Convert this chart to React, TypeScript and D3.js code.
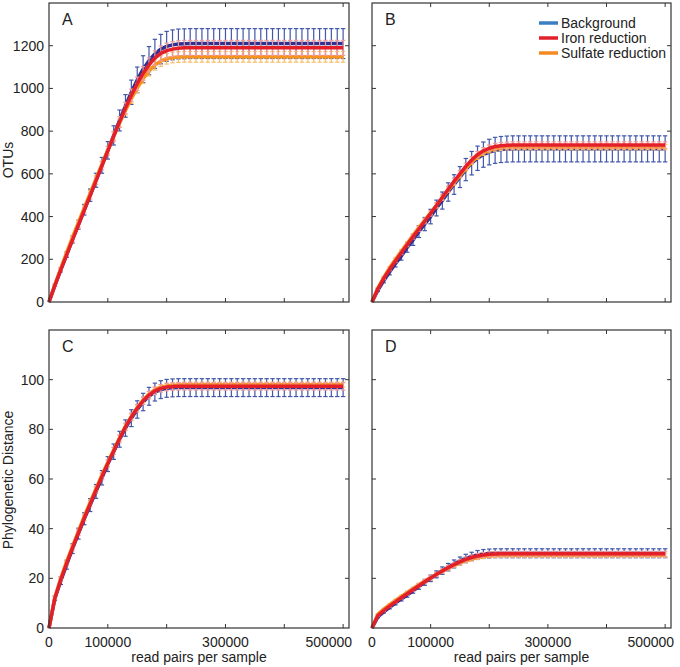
import React from "react";
import * as d3 from "d3";

const xs = [0, 10000, 20000, 30000, 40000, 50000, 60000, 70000, 80000, 90000, 100000, 110000, 120000, 130000, 140000, 150000, 160000, 170000, 180000, 190000, 200000, 210000, 220000, 230000, 240000, 250000, 260000, 270000, 280000, 290000, 300000, 310000, 320000, 330000, 340000, 350000, 360000, 370000, 380000, 390000, 400000, 410000, 420000, 430000, 440000, 450000, 460000, 470000, 480000, 490000, 500000];

const seriesNames = ["Background", "Iron reduction", "Sulfate reduction"];
const xTickValues = [100000, 200000, 300000, 400000, 500000];
const xTickLabels = [0, 100000, 300000, 500000];
const otuTicks = [0, 200, 400, 600, 800, 1000, 1200];
const pdTicks = [0, 20, 40, 60, 80, 100];
const panelLetters = ["A", "B", "C", "D"];

// Panel A (OTUs, left)
const aBackground = [0, 78, 150, 222, 293, 362, 432, 500, 570, 640, 710, 780, 850, 918, 982, 1040, 1090, 1130, 1162, 1184, 1197, 1204, 1208, 1209, 1210,
  1210, 1210, 1210, 1210, 1210, 1210, 1210, 1210, 1210, 1210, 1210, 1210, 1210,
  1210, 1210, 1210, 1210, 1210, 1210, 1210, 1210, 1210, 1210, 1210, 1210, 1210];
const aIron = [0, 78, 150, 221, 291, 360, 430, 498, 568, 638, 708, 776, 843, 908, 968, 1022, 1070, 1110, 1142, 1164, 1177, 1184, 1188, 1190, 1190,
  1190, 1190, 1190, 1190, 1190, 1190, 1190, 1190, 1190, 1190, 1190, 1190, 1190,
  1190, 1190, 1190, 1190, 1190, 1190, 1190, 1190, 1190, 1190, 1190, 1190, 1190];
const aSulfate = [0, 82, 158, 232, 304, 373, 442, 510, 578, 646, 712, 776, 838, 897, 952, 1002, 1046, 1082, 1110, 1128, 1139, 1145, 1147, 1148, 1148,
  1148, 1148, 1148, 1148, 1148, 1148, 1148, 1148, 1148, 1148, 1148, 1148, 1148,
  1148, 1148, 1148, 1148, 1148, 1148, 1148, 1148, 1148, 1148, 1148, 1148, 1148];
const aBackgroundErr = [0, 5, 9, 13, 17, 21, 25, 29, 33, 37, 41, 45, 49, 53, 57, 60, 63, 66, 68, 69, 70, 70, 70, 70, 70,
  70, 70, 70, 70, 70, 70, 70, 70, 70, 70, 70, 70, 70,
  70, 70, 70, 70, 70, 70, 70, 70, 70, 70, 70, 70, 70];
const aIronErr = [0, 3, 5, 7, 9, 11, 13, 15, 17, 19, 21, 23, 25, 27, 29, 31, 32, 33, 34, 35, 35, 35, 35, 35, 35,
  35, 35, 35, 35, 35, 35, 35, 35, 35, 35, 35, 35, 35,
  35, 35, 35, 35, 35, 35, 35, 35, 35, 35, 35, 35, 35];
const aSulfateErr = [0, 2, 4, 5, 7, 8, 10, 11, 13, 14, 16, 17, 18, 20, 21, 22, 23, 24, 24, 25, 25, 25, 25, 25, 25,
  25, 25, 25, 25, 25, 25, 25, 25, 25, 25, 25, 25, 25,
  25, 25, 25, 25, 25, 25, 25, 25, 25, 25, 25, 25, 25];

// Panel B (OTUs, right)
const bBackground = [0, 55, 100, 140, 180, 215, 255, 290, 330, 365, 400, 440, 475, 515, 550, 585, 620, 650, 673, 690, 702, 710, 714, 716, 717,
  717, 717, 717, 717, 717, 717, 717, 717, 717, 717, 717, 717, 717,
  717, 717, 717, 717, 717, 717, 717, 717, 717, 717, 717, 717, 717];
const bIron = [0, 62, 110, 152, 192, 230, 268, 305, 342, 378, 415, 452, 490, 528, 565, 600, 635, 665, 690, 708, 720, 728, 732, 734, 735,
  735, 735, 735, 735, 735, 735, 735, 735, 735, 735, 735, 735, 735,
  735, 735, 735, 735, 735, 735, 735, 735, 735, 735, 735, 735, 735];
const bSulfate = [0, 65, 115, 160, 200, 238, 275, 312, 348, 383, 418, 453, 488, 524, 558, 592, 625, 655, 680, 698, 710, 718, 722, 724, 725,
  725, 725, 725, 725, 725, 725, 725, 725, 725, 725, 725, 725, 725,
  725, 725, 725, 725, 725, 725, 725, 725, 725, 725, 725, 725, 725];
const bBackgroundErr = [0, 6, 10, 13, 16, 19, 22, 25, 28, 31, 34, 37, 40, 43, 46, 49, 52, 55, 57, 59, 60, 61, 61, 61, 61,
  61, 61, 61, 61, 61, 61, 61, 61, 61, 61, 61, 61, 61,
  61, 61, 61, 61, 61, 61, 61, 61, 61, 61, 61, 61, 61];
const bIronErr = [0, 3, 5, 6, 7, 8, 9, 10, 11, 12, 13, 13, 14, 14, 15, 15, 15, 15, 15, 15, 15, 15, 15, 15, 15,
  15, 15, 15, 15, 15, 15, 15, 15, 15, 15, 15, 15, 15,
  15, 15, 15, 15, 15, 15, 15, 15, 15, 15, 15, 15, 15];
const bSulfateErr = [0, 3, 4, 5, 6, 7, 7, 8, 8, 9, 9, 10, 10, 10, 11, 11, 11, 11, 12, 12, 12, 12, 12, 12, 12,
  12, 12, 12, 12, 12, 12, 12, 12, 12, 12, 12, 12, 12,
  12, 12, 12, 12, 12, 12, 12, 12, 12, 12, 12, 12, 12];

// Panel C (Phylogenetic distance, left)
const cBackground = [0, 12, 19, 25.5, 32, 38, 44, 49.5, 55, 60.5, 66, 71, 76, 80.5, 84.5, 88, 91, 93.3, 95, 96, 96.5, 96.7, 96.8, 96.8, 96.8,
  96.8, 96.8, 96.8, 96.8, 96.8, 96.8, 96.8, 96.8, 96.8, 96.8, 96.8, 96.8, 96.8,
  96.8, 96.8, 96.8, 96.8, 96.8, 96.8, 96.8, 96.8, 96.8, 96.8, 96.8, 96.8, 96.8];
const cIron = [0, 12, 19.5, 26, 32.3, 38.3, 44.3, 50, 55.5, 61, 66.3, 71.3, 76.3, 81, 85, 88.5, 91.5, 93.8, 95.5, 96.5, 97, 97.2, 97.3, 97.3, 97.3,
  97.3, 97.3, 97.3, 97.3, 97.3, 97.3, 97.3, 97.3, 97.3, 97.3, 97.3, 97.3, 97.3,
  97.3, 97.3, 97.3, 97.3, 97.3, 97.3, 97.3, 97.3, 97.3, 97.3, 97.3, 97.3, 97.3];
const cSulfate = [0, 12.5, 20, 26.8, 33, 39, 45, 50.7, 56.2, 61.6, 66.8, 71.8, 76.6, 81.2, 85.2, 88.8, 91.8, 94.2, 96, 97, 97.5, 97.8, 97.9, 98, 98,
  98, 98, 98, 98, 98, 98, 98, 98, 98, 98, 98, 98, 98,
  98, 98, 98, 98, 98, 98, 98, 98, 98, 98, 98, 98, 98];
const cBackgroundErr = [0, 1, 1.5, 1.8, 2, 2.2, 2.4, 2.6, 2.8, 2.9, 3, 3.1, 3.2, 3.3, 3.4, 3.5, 3.5, 3.6, 3.6, 3.6, 3.6, 3.6, 3.6, 3.6, 3.6,
  3.6, 3.6, 3.6, 3.6, 3.6, 3.6, 3.6, 3.6, 3.6, 3.6, 3.6, 3.6, 3.6,
  3.6, 3.6, 3.6, 3.6, 3.6, 3.6, 3.6, 3.6, 3.6, 3.6, 3.6, 3.6, 3.6];
const cIronErr = [0, 0.6, 0.8, 0.9, 1, 1.1, 1.2, 1.2, 1.3, 1.3, 1.4, 1.4, 1.5, 1.5, 1.5, 1.5, 1.5, 1.5, 1.5, 1.5, 1.5, 1.5, 1.5, 1.5, 1.5,
  1.5, 1.5, 1.5, 1.5, 1.5, 1.5, 1.5, 1.5, 1.5, 1.5, 1.5, 1.5, 1.5,
  1.5, 1.5, 1.5, 1.5, 1.5, 1.5, 1.5, 1.5, 1.5, 1.5, 1.5, 1.5, 1.5];
const cSulfateErr = [0, 0.4, 0.5, 0.6, 0.7, 0.7, 0.8, 0.8, 0.9, 0.9, 1, 1, 1, 1, 1, 1, 1, 1, 1, 1, 1, 1, 1, 1, 1,
  1, 1, 1, 1, 1, 1, 1, 1, 1, 1, 1, 1, 1,
  1, 1, 1, 1, 1, 1, 1, 1, 1, 1, 1, 1, 1];

// Panel D (Phylogenetic distance, right)
const dBackground = [0, 4.5, 6.5, 8.3, 10, 11.7, 13.3, 15, 16.7, 18.4, 20, 21.6, 23.1, 24.5, 25.8, 27, 28, 28.8, 29.4, 29.8, 30, 30.1, 30.1, 30.1, 30.1,
  30.1, 30.1, 30.1, 30.1, 30.1, 30.1, 30.1, 30.1, 30.1, 30.1, 30.1, 30.1, 30.1,
  30.1, 30.1, 30.1, 30.1, 30.1, 30.1, 30.1, 30.1, 30.1, 30.1, 30.1, 30.1, 30.1];
const dIron = [0, 5, 7, 8.8, 10.5, 12.2, 13.8, 15.4, 17, 18.6, 20.1, 21.6, 23, 24.3, 25.5, 26.6, 27.6, 28.4, 29, 29.4, 29.7, 29.8, 29.9, 29.9, 29.9,
  29.9, 29.9, 29.9, 29.9, 29.9, 29.9, 29.9, 29.9, 29.9, 29.9, 29.9, 29.9, 29.9,
  29.9, 29.9, 29.9, 29.9, 29.9, 29.9, 29.9, 29.9, 29.9, 29.9, 29.9, 29.9, 29.9];
const dSulfate = [0, 5.5, 7.6, 9.4, 11.1, 12.7, 14.3, 15.9, 17.4, 18.9, 20.3, 21.6, 22.9, 24.1, 25.2, 26.2, 27.1, 27.8, 28.4, 28.8, 29.1, 29.2, 29.3, 29.3, 29.3,
  29.3, 29.3, 29.3, 29.3, 29.3, 29.3, 29.3, 29.3, 29.3, 29.3, 29.3, 29.3, 29.3,
  29.3, 29.3, 29.3, 29.3, 29.3, 29.3, 29.3, 29.3, 29.3, 29.3, 29.3, 29.3, 29.3];
const dBackgroundErr = [0, 0.4, 0.5, 0.6, 0.7, 0.8, 0.9, 1, 1.1, 1.2, 1.3, 1.4, 1.5, 1.5, 1.6, 1.6, 1.7, 1.7, 1.8, 1.8, 1.8, 1.8, 1.8, 1.8, 1.8,
  1.8, 1.8, 1.8, 1.8, 1.8, 1.8, 1.8, 1.8, 1.8, 1.8, 1.8, 1.8, 1.8,
  1.8, 1.8, 1.8, 1.8, 1.8, 1.8, 1.8, 1.8, 1.8, 1.8, 1.8, 1.8, 1.8];
const dIronErr = [0, 0.3, 0.4, 0.4, 0.5, 0.5, 0.6, 0.6, 0.7, 0.7, 0.8, 0.8, 0.8, 0.9, 0.9, 0.9, 1, 1, 1, 1, 1, 1, 1, 1, 1,
  1, 1, 1, 1, 1, 1, 1, 1, 1, 1, 1, 1, 1,
  1, 1, 1, 1, 1, 1, 1, 1, 1, 1, 1, 1, 1];
const dSulfateErr = [0, 0.3, 0.3, 0.4, 0.4, 0.5, 0.5, 0.5, 0.6, 0.6, 0.6, 0.7, 0.7, 0.7, 0.7, 0.8, 0.8, 0.8, 0.8, 0.8, 0.8, 0.8, 0.8, 0.8, 0.8,
  0.8, 0.8, 0.8, 0.8, 0.8, 0.8, 0.8, 0.8, 0.8, 0.8, 0.8, 0.8, 0.8,
  0.8, 0.8, 0.8, 0.8, 0.8, 0.8, 0.8, 0.8, 0.8, 0.8, 0.8, 0.8, 0.8];

const lineColors = ["#2e3192", "#e3202a", "#f7941d"];
const barColors = ["#4257a8", "#f29a9a", "#f9bd6e"];
const legendColors = ["#3b7fc2", "#e3202a", "#f58a22"];
const FONT = "'Liberation Sans', Arial, Helvetica, sans-serif";
const TEXT = "#222";

type PanelDef = {
  letter: string;
  left: number; right: number; top: number; bottom: number;
  yMax: number; yTicks: number[];
  yLabels: boolean; xLabels: boolean;
  means: number[][]; errs: number[][];
};

const panels: PanelDef[] = [
  { letter: panelLetters[0], left: 49, right: 349, top: 3, bottom: 302, yMax: 1400, yTicks: otuTicks, yLabels: true, xLabels: false,
    means: [aBackground, aIron, aSulfate], errs: [aBackgroundErr, aIronErr, aSulfateErr] },
  { letter: panelLetters[1], left: 372, right: 671, top: 3, bottom: 302, yMax: 1400, yTicks: otuTicks, yLabels: false, xLabels: false,
    means: [bBackground, bIron, bSulfate], errs: [bBackgroundErr, bIronErr, bSulfateErr] },
  { letter: panelLetters[2], left: 49, right: 349, top: 330, bottom: 628, yMax: 120, yTicks: pdTicks, yLabels: true, xLabels: true,
    means: [cBackground, cIron, cSulfate], errs: [cBackgroundErr, cIronErr, cSulfateErr] },
  { letter: panelLetters[3], left: 372, right: 671, top: 330, bottom: 628, yMax: 120, yTicks: pdTicks, yLabels: false, xLabels: true,
    means: [dBackground, dIron, dSulfate], errs: [dBackgroundErr, dIronErr, dSulfateErr] },
];

const drawOrder = [0, 2, 1];

function Panel({ p }: { p: PanelDef }) {
  const x = d3.scaleLinear().domain([0, 510000]).range([p.left, p.right]);
  const y = d3.scaleLinear().domain([0, p.yMax]).range([p.bottom, p.top]);
  const line = d3.line<number>().x((_, i) => x(xs[i])).y((v) => y(v));
  const tl = 4;
  const lastTick = xTickLabels[xTickLabels.length - 1];
  return (
    <g>
      {drawOrder.map((s) => (
        <g key={s}>
          {xs.map((xv, i) => {
            const m = p.means[s][i];
            const e = p.errs[s][i];
            if (m === undefined || e === undefined || e <= 0) return null;
            const cx = x(xv);
            return (
              <g key={i} stroke={barColors[s]} strokeWidth={1.2}>
                <line x1={cx} x2={cx} y1={y(m - e)} y2={y(m + e)} />
                <line x1={cx - 2.2} x2={cx + 2.2} y1={y(m + e)} y2={y(m + e)} />
                <line x1={cx - 2.2} x2={cx + 2.2} y1={y(m - e)} y2={y(m - e)} />
              </g>
            );
          })}
          <path d={line(p.means[s].slice(0, xs.length)) || ""} fill="none" stroke={lineColors[s]} strokeWidth={3.5} strokeLinejoin="round" />
        </g>
      ))}
      <rect x={p.left} y={p.top} width={p.right - p.left} height={p.bottom - p.top} fill="none" stroke="#333" strokeWidth={1.2} />
      {p.yTicks.filter((t) => t > 0).map((t) => (
        <g key={t} stroke="#333" strokeWidth={1}>
          <line x1={p.left} x2={p.left + tl} y1={y(t)} y2={y(t)} />
          <line x1={p.right} x2={p.right - tl} y1={y(t)} y2={y(t)} />
        </g>
      ))}
      {xTickValues.map((t) => (
        <g key={t} stroke="#333" strokeWidth={1}>
          <line x1={x(t)} x2={x(t)} y1={p.bottom} y2={p.bottom - tl} />
          <line x1={x(t)} x2={x(t)} y1={p.top} y2={p.top + tl} />
        </g>
      ))}
      {p.yLabels && p.yTicks.map((t) => (
        <text key={t} x={p.left - 5} y={y(t) + 5} textAnchor="end" fontSize={14} fill={TEXT} fontFamily={FONT}>{t}</text>
      ))}
      {p.xLabels && xTickLabels.map((t) => (
        <text key={t} x={t === lastTick ? x(t) + 9 : x(t)} y={p.bottom + 19} textAnchor={t === lastTick ? "end" : "middle"} fontSize={14} fill={TEXT} fontFamily={FONT}>{t}</text>
      ))}
      {p.xLabels && (
        <text x={(p.left + p.right) / 2} y={p.bottom + 34} textAnchor="middle" fontSize={14} fill={TEXT} fontFamily={FONT}>read pairs per sample</text>
      )}
      <text x={p.left + 13} y={p.top + 22} fontSize={16} fill={TEXT} fontFamily={FONT}>{p.letter}</text>
    </g>
  );
}

export default function App() {
  return (
    <svg width={680} height={667} style={{ position: "absolute", left: 0, top: 0, background: "#fff" }}>
      <rect width={680} height={667} fill="#fff" />
      {panels.map((p, i) => <Panel key={i} p={p} />)}
      <text transform="translate(13,160) rotate(-90)" textAnchor="middle" fontSize={14} fill={TEXT} fontFamily={FONT}>OTUs</text>
      <text transform="translate(13,480) rotate(-90)" textAnchor="middle" fontSize={14} fill={TEXT} fontFamily={FONT}>Phylogenetic Distance</text>
      {seriesNames.map((n, i) => (
        <g key={n}>
          <line x1={539} x2={558} y1={23 + i * 15} y2={23 + i * 15} stroke={legendColors[i]} strokeWidth={3.5} />
          <text x={561} y={28 + i * 15} fontSize={14} fill={TEXT} fontFamily={FONT}>{n}</text>
        </g>
      ))}
    </svg>
  );
}
